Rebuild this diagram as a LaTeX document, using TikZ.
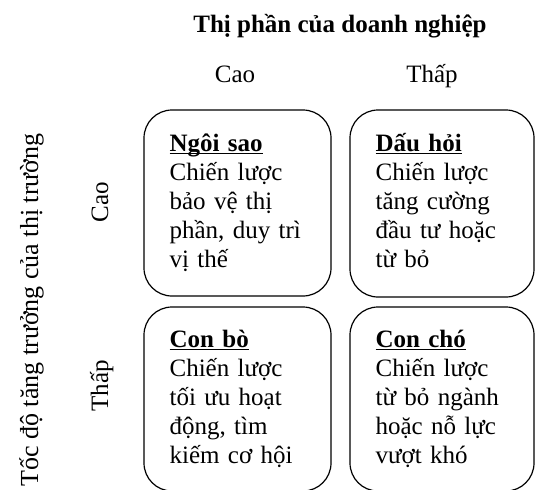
\documentclass[tikz,border=0pt]{standalone}
\usepackage{fontspec}
\setmainfont{Liberation Serif}
\usetikzlibrary{positioning}
\newcommand\boxtitle[1]{\setbox0=\hbox{\bfseries #1}\rlap{\rule[-3pt]{\wd0}{1.5pt}}\box0}
\tikzset{
  cell/.style={draw, rounded corners=28pt, line width=1.2pt, inner sep=0pt},
  celltxt/.style={anchor=base west, inner sep=0pt, align=left, text width=165pt, font=\fontsize{25}{29}\selectfont},
  lbl/.style={inner sep=0pt, anchor=base, font=\fontsize{25}{29}\selectfont},
  every picture/.style={line cap=round, line join=round}
}
\begin{document}
\begin{tikzpicture}[x=1pt,y=-1pt]
  \useasboundingbox (0,0) rectangle (536,490);
  \clip (0,0) rectangle (536,490);
  \node[lbl, font=\bfseries\fontsize{25}{29}\selectfont] (title) at (340,32) {Thị phần của doanh nghiệp};
  \node[lbl] (colhi) at (235,82) {Cao};
  \node[lbl] (collo) at (432,82) {Thấp};
  \node[lbl, rotate=90, font=\fontsize{26}{30}\selectfont] (axis) at (38,310) {Tốc độ tăng trưởng của thị trường};
  \node[lbl, rotate=90] (rowhi) at (108,202) {Cao};
  \node[lbl, rotate=90] (rowlo) at (108,386) {Thấp};
  \node[cell, minimum width=187pt, minimum height=186pt] (star) at (237.5,203) {};
  \node[cell, minimum width=184pt, minimum height=187pt] (quest) at (442,203.5) {};
  \node[cell, minimum width=187pt, minimum height=184pt] (cow) at (237.5,399) {};
  \node[cell, minimum width=184pt, minimum height=184pt] (dog) at (442,399) {};
  \node[celltxt] (startxt) at ([shift={(26,42)}]star.north west) {\boxtitle{Ngôi sao}\\Chiến lược\\bảo vệ thị\\phần, duy trì\\vị thế};
  \node[celltxt] (questtxt) at ([shift={(26,42)}]quest.north west) {\boxtitle{Dấu hỏi}\\Chiến lược\\tăng cường\\đầu tư hoặc\\từ bỏ};
  \node[celltxt] (cowtxt) at ([shift={(26,41)}]cow.north west) {\boxtitle{Con bò}\\Chiến lược\\tối ưu hoạt\\động, tìm\\kiếm cơ hội};
  \node[celltxt] (dogtxt) at ([shift={(26,41)}]dog.north west) {\boxtitle{Con chó}\\Chiến lược\\từ bỏ ngành\\hoặc nỗ lực\\vượt khó};
\end{tikzpicture}
\end{document}
